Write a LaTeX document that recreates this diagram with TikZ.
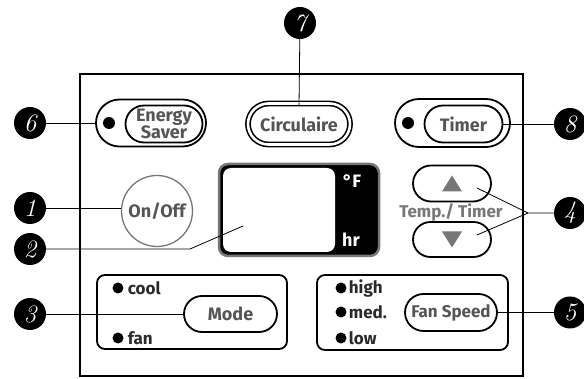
\documentclass[tikz,border=0pt]{standalone}
\usepackage{fontspec}
\setmainfont{Fira Sans}
\newfontfamily\numfont{Latin Modern Roman}
\usepackage{xcolor}
\usetikzlibrary{shapes.misc, positioning}
\definecolor{txtgray}{HTML}{555555}
\definecolor{rimgray}{HTML}{777777}
\definecolor{darkgray}{HTML}{2A2A2A}

\begin{document}
\begin{tikzpicture}[x=1pt, y=-1pt]
            \tikzset{
                pill/.style={draw, shape = rounded rectangle, line width=1.8pt, inner sep=0pt, text=txtgray, font=\bfseries\fontsize{18}{16}\selectfont},
                twinpill/.style={pill, double, double distance=2.6pt, line width=1.6pt},
                badge/.style={shape = circle, fill=black, text=white, minimum size=32pt, inner sep=0pt, font=\numfont\itshape\fontsize{25}{25}\selectfont},
                lamp/.style={shape = circle, fill=black, minimum size=12pt, inner sep=0pt},
                tag/.style={text=darkgray, inner sep=1pt, font=\bfseries\fontsize{17}{17}\selectfont},
                lead/.style={line width=0.8pt},
                group/.style={draw, line width=1.8pt, rounded corners=8pt}
            }
            \useasboundingbox (0,0) rectangle (584,379);
            \draw[line width=2pt] (80,74) rectangle (523,376);
            % top row
            \node[pill, minimum width=110pt, minimum height=47pt] (saver) at (151,123) {};
            \node[pill, minimum width=77pt, minimum height=37pt, align=center] (saverkey) at (164,124) {Energy\\Saver};
            \node[lamp] (saverlamp) at (109,123) {};
            \node[twinpill, minimum width=102pt, minimum height=41pt] (circ) at (299,124) {Circulaire};
            \node[pill, minimum width=115pt, minimum height=48pt] (timer) at (452.5,123) {};
            \node[pill, minimum width=78pt, minimum height=37pt] (timerkey) at (463.5,124) {Timer};
            \node[lamp] (timerlamp) at (408,123) {};
            % power and display
            \node[draw=rimgray, shape = circle, line width=1.3pt, minimum size=71pt, inner sep=0pt, text=txtgray, font=\bfseries\fontsize{18}{18}\selectfont] (power) at (157,211) {On/Off};
            \node[draw=rimgray, fill=black, line width=2.5pt, rounded corners=9pt, minimum width=160pt, minimum height=92pt] (screen) at (299,210) {};
            \node[fill=white, rounded corners=8pt, minimum width=112pt, minimum height=84pt] (lcd) at (279,210) {};
            \node[text=white, font=\bfseries\fontsize{18}{18}\selectfont] (unitF) at (352,181) {°F};
            \node[text=white, font=\bfseries\fontsize{18}{18}\selectfont] (unithr) at (351,240) {hr};
            % temp / timer keys
            \node[pill, minimum width=78pt, minimum height=36pt] (up) at (452,183.5) {};
            \node[pill, minimum width=78pt, minimum height=35pt] (down) at (452,239.5) {};
            \fill[rimgray] ([shift={(-10pt,-8pt)}]up.center) -- ([shift={(10pt,-8pt)}]up.center) -- ([shift={(0pt,8pt)}]up.center) -- cycle;
            \fill[rimgray] ([shift={(-10pt,8pt)}]down.center) -- ([shift={(10pt,8pt)}]down.center) -- ([shift={(0pt,-8pt)}]down.center) -- cycle;
            \node[tag, text=rimgray] (templabel) at (451,212) {Temp./ Timer};
            % mode group
            \draw[group] (97,275) rectangle (287,349);
            \node[lamp, minimum size=11pt] (coollamp) at (118,288) {};
            \node[tag, right=3pt of coollamp] (cool) {cool};
            \node[lamp, minimum size=11pt] (fanlamp) at (118,338) {};
            \node[tag, right=3pt of fanlamp] (fan) {fan};
            \node[pill, minimum width=93pt, minimum height=36pt] (mode) at (230.5,314) {Mode};
            % fan speed group
            \draw[group] (317,275) rectangle (508,350);
            \node[lamp, minimum size=11pt] (highlamp) at (341,288) {};
            \node[tag, right=1pt of highlamp] (high) {high};
            \node[lamp, minimum size=11pt] (medlamp) at (341,312) {};
            \node[tag, right=1pt of medlamp] (med) {med.};
            \node[lamp, minimum size=11pt] (lowlamp) at (341,338) {};
            \node[tag, right=1pt of lowlamp] (low) {low};
            \node[pill, minimum width=92pt, minimum height=37pt, font=\bfseries\fontsize{17}{17}\selectfont] (speed) at (451,312.5) {Fan Speed};
            % callouts
            \node[badge] (badge6) at (30,123) {6};
            \node[badge] (badge7) at (300,23) {7};
            \node[badge] (badge8) at (570,124) {8};
            \node[badge] (badge1) at (30,208) {1};
            \node[badge] (badge2) at (30,249) {2};
            \node[badge] (badge3) at (30,314) {3};
            \node[badge] (badge4) at (570,213) {4};
            \node[badge] (badge5) at (570,312.5) {5};
            \coordinate (bend2) at (190,249);
            \coordinate (lcdtip) at (243,226);
            \coordinate (fork) at (528,213);
            \coordinate (uptip) at (477,188);
            \coordinate (downtip) at (477,235);
            \draw[lead] (badge6) -- (saver.west);
            \draw[lead] (badge7) -- ([yshift=-3pt]circ.north);
            \draw[lead] (timerkey.east) -- (badge8);
            \draw[lead] (badge1.east) -- (badge1 -| power.west);
            \draw[lead] (badge2.east) -- (bend2) -- (lcdtip);
            \draw[lead] (badge3) -- (mode.west);
            \draw[lead] (badge4) -- (fork) -- (uptip);
            \draw[lead] (fork) -- (downtip);
            \draw[lead] (speed.east) -- (badge5);
        \end{tikzpicture}
\end{document}
